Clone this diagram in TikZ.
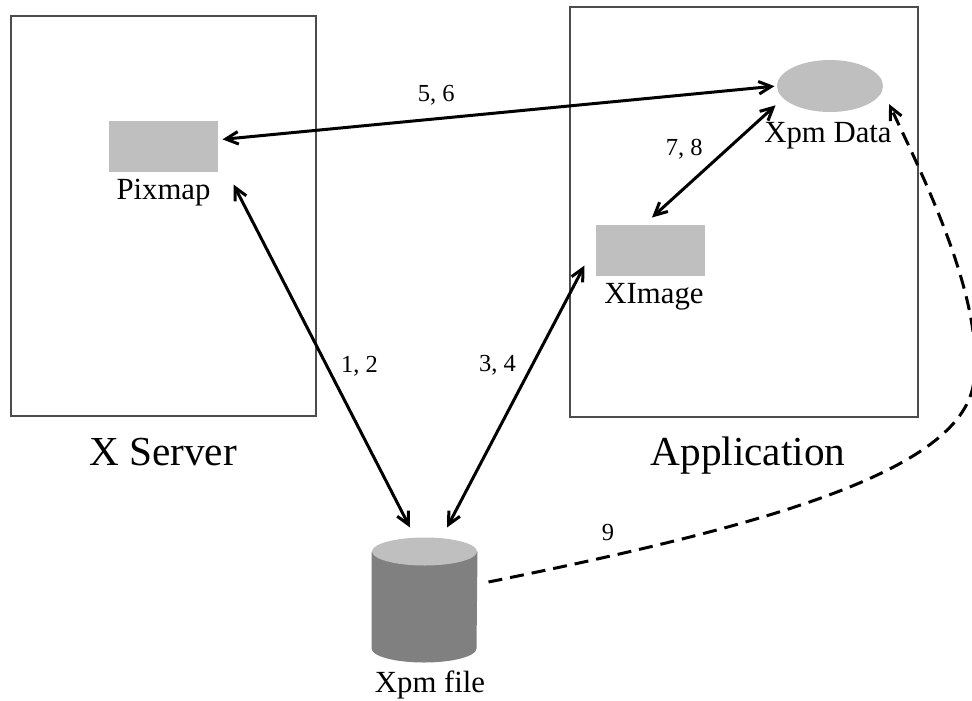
\documentclass[tikz,border=0pt]{standalone}
\usepackage{fontspec}
\setmainfont{Liberation Serif}
\usetikzlibrary{positioning,arrows.meta,shapes.geometric}

\tikzset{
  frame/.style={draw=black!70,line width=0.45pt},
  obj/.style={rectangle,fill=black!25,minimum width=43.6pt,minimum height=20.4pt,inner sep=0pt},
  txt/.style={font=\fontsize{12.3}{14}\selectfont,anchor=base,inner sep=0pt},
  title/.style={font=\fontsize{16.5}{19}\selectfont,anchor=base,inner sep=0pt},
  num/.style={font=\fontsize{9.8}{12}\selectfont,inner sep=1pt},
  link/.style={<->,line width=1.2pt},
}

\begin{document}
\begin{tikzpicture}[x=0.4pt,y=-0.4pt,>={Straight Barb[length=5pt,width=5pt]}]
\useasboundingbox (0,0) rectangle (972,700);

% the two boxes
\node[frame,minimum width=122pt,minimum height=160pt] (server) at (163.5,216) {};
\node[frame,minimum width=139.2pt,minimum height=164pt] (app) at (744,212) {};
\node[title] (servername) at (163,465) {X Server};
\node[title] (appname) at (748,465) {Application};

% objects
\node[obj] (pix) at (163.5,146.5) {};
\node[txt] (pixname) at (163.5,199) {Pixmap};
\node[obj] (ximage) at (650.5,250.5) {};
\node[txt] (ximagename) at (654,303) {XImage};
\node[ellipse,fill=black!25,minimum width=42.4pt,minimum height=20.8pt,inner sep=0pt] (data) at (830,86) {};
\node[txt] (dataname) at (828,142) {Xpm Data};
% the file drum
\node[rectangle,minimum width=42pt,minimum height=49.6pt,inner sep=0pt] (file) at (424.5,600) {};
\fill[black!50] ([yshift=-5.6pt]file.north west) -- ([yshift=5.6pt]file.south west)
  arc[start angle=180,end angle=360,x radius=21pt,y radius=5.6pt] -- ([yshift=-5.6pt]file.north east) -- cycle;
\fill[black!25] ([yshift=-5.6pt]file.north) ellipse[x radius=21pt,y radius=5.6pt];
\node[txt] (filename) at (430,692) {Xpm file};

% connectors
\draw[link,shorten <=1.6pt,shorten >=0.8pt] (pix.7) -- node[pos=0.39,above=4pt,num] (l56) {5, 6} (data.west);
\draw[link] ([shift={(-14.5,-10)}]file.north) -- node[pos=0.47,right=4pt,num] (l12) {1, 2} ([shift={(15,12)}]pix.south east);
\draw[link] ([shift={(22.5,-10)}]file.north) -- node[pos=0.62,left=5pt,num] (l34) {3, 4} ([shift={(-11,-11)}]ximage.south west);
\draw[link,shorten >=4pt] ([shift={(1.5,-7)}]ximage.north) -- node[pos=0.57,left=8pt,num] (l78) {7, 8} (data.195);
\coordinate (bend) at (974,380);
\draw[->,line width=1.2pt,dash pattern=on 5.6pt off 3.2pt,shorten >=6pt]
  ([shift={(11,-18)}]file.east) .. controls (770,525) and (965,470) .. (bend)
  .. controls (984,300) and (925,180) .. (data.-5);
\node[num] (l9) at (608,532) {9};
\end{tikzpicture}
\end{document}
